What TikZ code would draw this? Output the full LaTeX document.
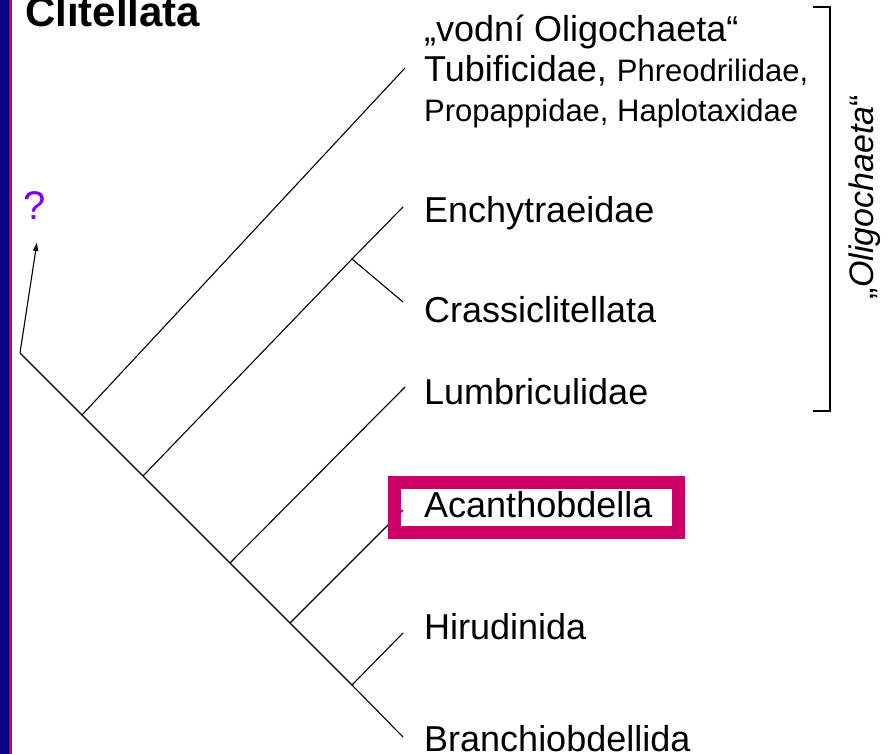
\documentclass[tikz,border=0pt]{standalone}
\usepackage{fontspec}
\setmainfont{Liberation Sans}
\usepackage{xcolor}
\usetikzlibrary{positioning, arrows.meta}

\definecolor{slidenavy}{RGB}{0,0,128}
\definecolor{slidepink}{RGB}{204,0,102}
\definecolor{askviolet}{RGB}{128,0,255}

\begin{document}
\begin{tikzpicture}[x=1pt, y=-1pt, >={Latex[length=9pt,width=6pt]},
    every node/.style={inner sep=0pt},
    taxon/.style={anchor=base west, font=\fontsize{36}{40}\selectfont},
    smalltaxon/.style={font=\fontsize{31}{36}\selectfont},
    branch/.style={draw=black, line width=1.1pt}]

    \useasboundingbox (0,0) rectangle (892,754);

    % Slide edge
    \fill[slidenavy] (0,0) rectangle (9,754);
    \fill[slidepink] (9,0) rectangle (12,754);

    % Title
    \node (title) [anchor=base west, font=\fontsize{42}{46}\selectfont\bfseries] at (25,27) {Clitellata};

    % Tree nodes
    \coordinate (root) at (20,353);
    \coordinate (n1) at (82,415);
    \coordinate (n2) at (143,476);
    \coordinate (n3) at (230,563);
    \coordinate (n4) at (290,623);
    \coordinate (n5) at (352,685);
    \coordinate (n2a) at (352,259);

    % Tips
    \coordinate (tVodni) at (405,68);
    \coordinate (tEnchy) at (403,207);
    \coordinate (tCrass) at (403,302);
    \coordinate (tLumbr) at (405,387);
    \coordinate (tAcant) at (403,510);
    \coordinate (tHirud) at (403,633);
    \coordinate (tBranc) at (403,737);
    \coordinate (askTip) at (37,242);

    % Branches
    \draw [branch] (root) -- (n1) -- (n2) -- (n3) -- (n4) -- (n5) -- (tBranc);
    \draw [branch] (n1) -- (tVodni);
    \draw [branch] (n2) -- (n2a) -- (tEnchy);
    \draw [branch] (n2a) -- (tCrass);
    \draw [branch] (n3) -- (tLumbr);
    \draw [branch] (n4) -- (tAcant);
    \draw [branch] (n5) -- (tHirud);
    \draw [branch, ->] (root) -- (askTip);

    % Question mark
    \node (ask) [anchor=base, text=askviolet, font=\fontsize{40}{44}\selectfont] at (35,220) {?};

    % Labels
    \node (vodni) [taxon] at (424,42) {„vodní Oligochaeta“};
    \node (tubif) [taxon] at (424,82) {Tubificidae, {\fontsize{31}{36}\selectfont Phreodrilidae,}};
    \node (propa) [taxon, smalltaxon] at (424,122) {Propappidae, Haplotaxidae};
    \node (enchy) [taxon] at (424,223) {Enchytraeidae};
    \node (crass) [taxon] at (424,323) {Crassiclitellata};
    \node (lumbr) [taxon] at (424,404) {Lumbriculidae};
    \node (acant) [taxon] at (424,517) {Acanthobdella};
    \node (hirud) [taxon] at (424,639) {Hirudinida};
    \node (branc) [taxon] at (424,751) {Branchiobdellida};

    % Highlight box
    \node (acantbox) [draw=slidepink, line width=13pt, minimum width=284pt, minimum height=50pt] at (536.5,507.5) {};

    % Bracket
    \draw [line width=1.3pt] (813,7) -- (830,7) -- (830,411) -- (813,411);
    \node (olig) [rotate=90, font=\fontsize{34}{38}\selectfont] at (865,197) {„\textit{Oligochaeta}“};

\end{tikzpicture}
\end{document}
